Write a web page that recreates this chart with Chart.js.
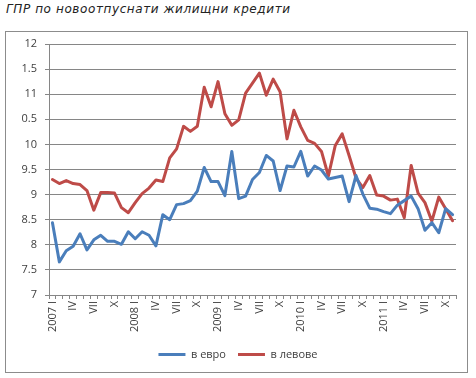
<!DOCTYPE html>
<html>
<head>
<meta charset="utf-8">
<script src="https://cdn.jsdelivr.net/npm/chart.js@4.4.0/dist/chart.umd.min.js"></script>
<style>
  body { margin: 0; background: #fff; }
  #title { position: absolute; left: 6px; top: 2px; font: italic 12px "DejaVu Sans"; letter-spacing: 0.6px; color: #222; white-space: nowrap; }
  #box { position: absolute; left: 5px; top: 31px; width: 461px; height: 340px; border: 1px solid #8c8c8c; }
  #wrap { position: absolute; left: 0; top: 0; width: 476px; height: 378px; }
</style>
</head>
<body>
<div id="title">ГПР по новоотпуснати жилищни кредити</div>
<div id="box"></div>
<div id="wrap"><canvas id="chart" width="476" height="378"></canvas></div>
<script>
// monthly, 2007 I .. 2011 XI
const years = ['2007', '2008', '2009', '2010', '2011'];
const monthNames = ['I', 'II', 'III', 'IV', 'V', 'VI', 'VII', 'VIII', 'IX', 'X', 'XI', 'XII'];
const shownMonths = ['I', 'IV', 'VII', 'X'];
const monthCount = 59;

const euro = [8.44, 7.66, 7.88, 7.97, 8.22, 7.90, 8.10, 8.19, 8.07, 8.07, 8.01, 8.26,
  8.12, 8.26, 8.19, 7.98, 8.60, 8.50, 8.80, 8.82, 8.88, 9.07, 9.54, 9.26,
  9.26, 8.98, 9.86, 8.92, 8.97, 9.30, 9.44, 9.78, 9.67, 9.08, 9.57, 9.55,
  9.86, 9.37, 9.57, 9.49, 9.31, 9.34, 9.37, 8.86, 9.38, 9.01, 8.73, 8.71,
  8.66, 8.62, 8.79, 8.88, 8.97, 8.72, 8.29, 8.44, 8.24, 8.72, 8.60];

const leva = [9.30, 9.22, 9.28, 9.22, 9.20, 9.08, 8.69, 9.04, 9.04, 9.03, 8.74, 8.64,
  8.84, 9.02, 9.13, 9.29, 9.26, 9.73, 9.91, 10.36, 10.26, 10.36, 11.14, 10.75,
  11.25, 10.61, 10.38, 10.49, 11.02, 11.22, 11.42, 10.98, 11.30, 11.05, 10.11, 10.68,
  10.35, 10.08, 10.02, 9.86, 9.37, 9.98, 10.21, 9.78, 9.33, 9.14, 9.38, 8.99,
  8.97, 8.89, 8.91, 8.54, 9.58, 9.03, 8.84, 8.47, 8.95, 8.72, 8.48];

const labels = [];
const tickText = [];
years.forEach(function(y) {
  monthNames.forEach(function(m, mi) {
    labels.push(y + ' ' + m);
    if (mi === 0) tickText.push(y + ' ' + m);
    else if (shownMonths.includes(m)) tickText.push(m);
    else tickText.push('');
  });
});
labels.length = monthCount;
tickText.length = monthCount;

const font = { family: 'Open Sans', size: 11 };
const gridColor = '#868686';

const chart = new Chart(document.getElementById('chart'), {
  type: 'line',
  data: {
    labels: labels,
    datasets: [{
        label: 'в евро',
        data: euro,
        borderColor: '#4A7EBB',
        backgroundColor: '#4A7EBB',
        borderWidth: 3,
        pointRadius: 0,
        borderJoinStyle: 'round',
        borderCapStyle: 'round'
      },
      {
        label: 'в левове',
        data: leva,
        borderColor: '#BE4B48',
        backgroundColor: '#BE4B48',
        borderWidth: 3,
        pointRadius: 0,
        borderJoinStyle: 'round',
        borderCapStyle: 'round'
      }
    ]
  },
  options: {
    responsive: false,
    animation: false,
    devicePixelRatio: 1,
    layout: {
      // left 20 + y axis 29 = 49, keeps legend centred like the original
      padding: { top: 44, right: 20, left: 20, bottom: 8 }
    },
    scales: {
      x: {
        offset: true,
        grid: { offset: true, drawOnChartArea: false, tickLength: 4, color: gridColor },
        border: { color: gridColor },
        ticks: {
          autoSkip: false,
          maxRotation: 90,
          minRotation: 90,
          padding: 2,
          color: '#404040',
          font: font,
          callback: function(value, index) {
            return tickText[index];
          }
        },
        afterFit: function(scale) { scale.height = 42; }
      },
      y: {
        min: 7,
        max: 12,
        ticks: {
          stepSize: 0.5,
          padding: 8,
          color: '#404040',
          font: font,
          callback: function(value) { return String(value); }
        },
        grid: { color: gridColor, tickLength: 4 },
        border: { color: gridColor },
        afterFit: function(scale) { scale.width = 29; }
      }
    },
    plugins: {
      legend: {
        position: 'bottom',
        labels: {
          usePointStyle: true,
          pointStyle: 'line',
          pointStyleWidth: 27,
          boxHeight: 8,
          padding: 12,
          color: '#404040',
          font: font
        }
      },
      tooltip: { enabled: false }
    }
  }
});
</script>
</body>
</html>
